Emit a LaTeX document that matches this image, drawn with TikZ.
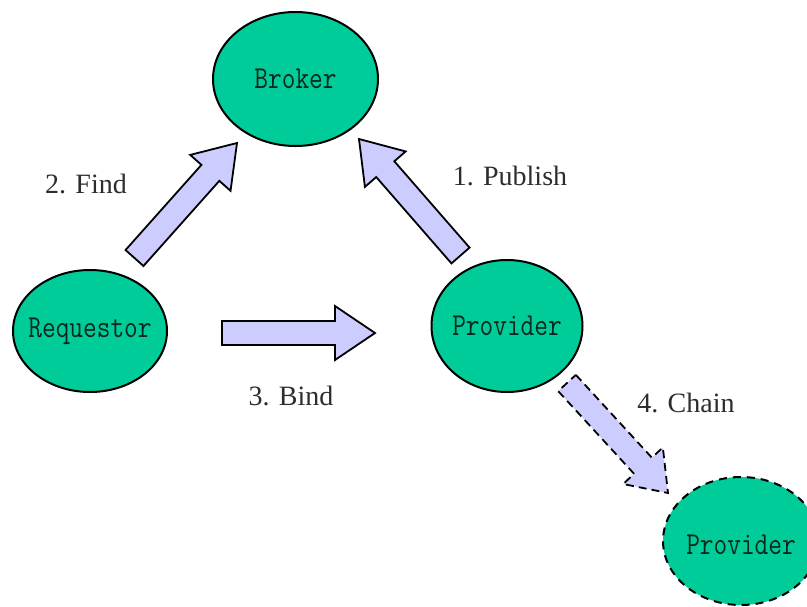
\documentclass[tikz,border=0pt]{standalone}
\usepackage{fontspec}
\setmainfont{Liberation Serif}
\usetikzlibrary{shapes.geometric,calc}
\definecolor{nodegreen}{RGB}{0,204,153}
\definecolor{arrowfill}{RGB}{204,204,255}
\definecolor{labelgray}{RGB}{45,45,45}
\definecolor{nodetext}{RGB}{10,40,30}
\newcommand{\pname}[1]{\scalebox{0.83}[1]{#1}}
\tikzset{
  party/.style={ellipse, draw=black, line width=2pt, fill=nodegreen, inner sep=0pt},
  partyname/.style={font=\ttfamily\fontsize{32}{32}\selectfont, text=nodetext, inner sep=0pt},
  fatarrow/.style={draw=black, line width=1.8pt, fill=arrowfill, line join=miter},
  chainarrow/.style={fatarrow, dash pattern=on 8pt off 5pt},
  steplabel/.style={font=\fontsize{28}{28}\selectfont, text=labelgray},
}
% \drawfatarrow[style]{tail}{tip}{head length}
\newcommand{\drawfatarrow}[4][]{%
  \coordinate (fa-base) at ($(#3)!#4!(#2)$);
  \draw[fatarrow,#1]
    ($(#2)!12pt!90:(#3)$) -- ($(fa-base)!12pt!90:(#3)$) --
    ($(fa-base)!27pt!90:(#3)$) -- (#3) --
    ($(fa-base)!27pt!-90:(#3)$) -- ($(fa-base)!12pt!-90:(#3)$) --
    ($(#2)!12pt!-90:(#3)$) -- cycle;
}
\begin{document}
\begin{tikzpicture}[x=1pt,y=-1pt]
  \useasboundingbox (0,0) rectangle (807,606);
  \clip (0,0) rectangle (807,606);
  % nodes
  \node[party, minimum width=165pt, minimum height=134pt] (broker) at (295.5,79) {};
  \node[partyname] (brokername) at (broker.center) {\pname{Broker}};
  \node[party, minimum width=154pt, minimum height=122pt] (requestor) at (90,331) {};
  \node[partyname] (requestorname) at (requestor.center) {\pname{Requestor}};
  \node[party, minimum width=151pt, minimum height=132pt] (provider) at (507,326) {};
  \node[partyname] (providername) at (provider.center) {\pname{Provider}};
  \node[party, dash pattern=on 8pt off 6pt, minimum width=156pt, minimum height=128pt] (provider2) at (741,541) {};
  \node[partyname] (provider2name) at ([yshift=-4pt]provider2.center) {\pname{Provider}};
  % arrow end points
  \coordinate (findtail) at (134.5,258);
  \coordinate (findtip) at (237,143);
  \coordinate (pubtail) at (460.5,255.5);
  \coordinate (pubtip) at (359,139);
  \coordinate (bindtail) at (222,333);
  \coordinate (bindtip) at (375,333);
  \coordinate (chaintail) at (567,383);
  \coordinate (chaintip) at (668,493);
  % arrows
  \drawfatarrow{findtail}{findtip}{40pt}
  \drawfatarrow{pubtail}{pubtip}{40pt}
  \drawfatarrow{bindtail}{bindtip}{40pt}
  \drawfatarrow[chainarrow]{chaintail}{chaintip}{37pt}
  % labels
  \node[steplabel] (findlabel) at (86,184) {2. Find};
  \node[steplabel] (publabel) at (510,176) {1. Publish};
  \node[steplabel] (bindlabel) at (291,396) {3. Bind};
  \node[steplabel] (chainlabel) at (686,403) {4. Chain};
\end{tikzpicture}
\end{document}
